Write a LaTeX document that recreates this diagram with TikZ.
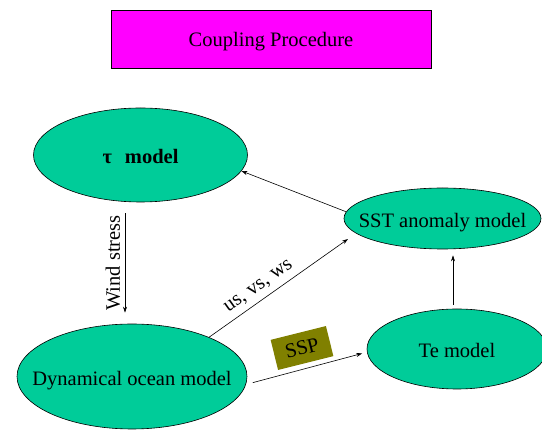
\documentclass[tikz,border=0pt]{standalone}
\usepackage{fontspec}
\setmainfont{Liberation Serif}
\usetikzlibrary{shapes.geometric,arrows.meta}
\definecolor{ellgreen}{RGB}{0,204,153}
\definecolor{titlemag}{RGB}{255,0,255}
\definecolor{sspolive}{RGB}{128,128,0}
\newcommand{\zbox}[1]{\makebox[0pt][c]{\raisebox{-3pt}{#1}}}
\begin{document}
\begin{tikzpicture}[x=1pt,y=-1pt,
  every node/.style={font=\fontsize{20.5}{24}\selectfont},
  model/.style={ellipse, draw=black, line width=0.6pt, fill=ellgreen, inner sep=0pt, text depth=0pt},
  arr/.style={-{Stealth[length=6pt,width=4pt]}, line width=0.6pt, black},
  lbl/.style={inner sep=0pt}
]
\useasboundingbox (0,0) rectangle (542,430);
% title
\node[draw=black, line width=0.6pt, fill=titlemag, minimum width=320pt, minimum height=58pt, inner sep=0pt, text depth=0pt] (title) at (271,39) {Coupling Procedure};
% models
\node[model, minimum width=214pt, minimum height=94pt] (tau) at (140.5,155) {\zbox{\textbf{τ\hspace{13pt}model}}};
\node[model, minimum width=197pt, minimum height=61pt] (sst) at (442.5,218.5) {\zbox{SST anomaly model}};
\node[model, minimum width=230pt, minimum height=105pt] (dyn) at (132,376.5) {\zbox{Dynamical ocean model}};
\node[model, minimum width=180pt, minimum height=80pt] (te) at (457,349) {\zbox{Te model}};
% connectors
\draw[arr] (sst.176) -- (tau.-9);
\draw[arr, shorten <=11pt, shorten >=11pt] ([xshift=-15.5pt]tau.south) -- ([xshift=-15.5pt]tau.south |- dyn.north);
\node[lbl, rotate=90] (wslbl) at (113,263) {Wind stress};
\coordinate (uvwend) at (348,239);
\draw[arr] (dyn.27) -- (uvwend);
\node[lbl, rotate=35.4] (uvwlbl) at (259,287) {us, vs, ws};
\draw[arr, shorten <=7pt, shorten >=5pt] (dyn.-4) -- (te.182);
\node[fill=sspolive, rotate=14, minimum width=57pt, minimum height=31pt, inner sep=0pt] (ssp) at (302,348) {SSP};
\draw[arr, shorten <=4pt, shorten >=6pt] ([xshift=-4pt]te.north) -- ([xshift=10.5pt]sst.south);
\end{tikzpicture}
\end{document}
